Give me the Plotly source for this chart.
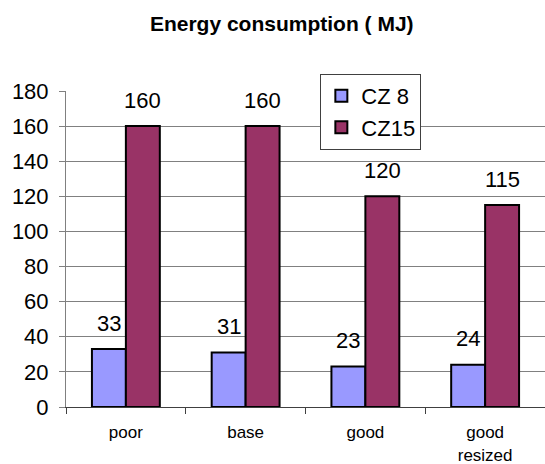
import plotly.graph_objects as go

categories = ["poor", "base", "good", "good<br>resized"]
cz8_values = [33, 31, 23, 24]
cz15_values = [160, 160, 120, 115]
series_names = ["CZ 8", "CZ15"]
series_colors = ["#9999FF", "#993366"]
y_ticks = [0, 20, 40, 60, 80, 100, 120, 140, 160, 180]

FONT = "Arial, Liberation Sans, sans-serif"

fig = go.Figure()
for name, vals, col in zip(series_names, [cz8_values, cz15_values], series_colors):
    fig.add_trace(go.Bar(
        x=categories, y=vals, name=name,
        marker=dict(color=col, line=dict(color="black", width=2)),
        textposition="none",
    ))

# data labels above bars
annotations = []
bar_px = 34
for vals, dx in [(cz8_values, -bar_px / 2), (cz15_values, bar_px / 2)]:
    for c, v in zip(categories, vals):
        annotations.append(dict(
            x=c, y=v, xref="x", yref="y", text=str(v), showarrow=False,
            xshift=dx, yshift=26, yanchor="middle", xanchor="center",
            font=dict(family=FONT, size=22, color="black"),
        ))

fig.update_layout(
    width=545, height=464,
    margin=dict(l=66, r=0, t=91, b=57),
    paper_bgcolor="white", plot_bgcolor="white",
    barmode="group", bargap=0.433, bargroupgap=0,
    font=dict(family=FONT, color="black"),
    title=dict(text="<b>Energy consumption ( MJ)</b>", x=0.517, xref="container",
               xanchor="center", y=0.948, yref="container", yanchor="middle",
               font=dict(family=FONT, size=21, color="black")),
    legend=dict(x=0.531, y=1.054, xanchor="left", yanchor="top",
                bgcolor="white", bordercolor="#404040", borderwidth=1,
                font=dict(family=FONT, size=22, color="black"),
                itemwidth=30),
    annotations=annotations,
    showlegend=True,
)
fig.update_xaxes(
    type="category", range=[-0.5, 3.5], automargin=False,
    showline=True, linecolor="#404040", linewidth=1,
    ticks="outside", tickson="boundaries", ticklen=6, tickcolor="#404040",
    showgrid=False, tickfont=dict(family=FONT, size=17, color="black"),
    ticklabelstandoff=10,
)
fig.update_yaxes(
    range=[0, 180], tickvals=y_ticks, automargin=False,
    showline=True, linecolor="#808080", linewidth=1,
    ticks="outside", ticklen=6, tickcolor="#808080",
    showgrid=True, gridcolor="#808080", gridwidth=1,
    zeroline=False, ticklabelstandoff=6,
    tickfont=dict(family=FONT, size=22, color="black"),
)

fig.write_html("out.html", config={"displayModeBar": False},
               post_script="document.body.style.margin='0';")
